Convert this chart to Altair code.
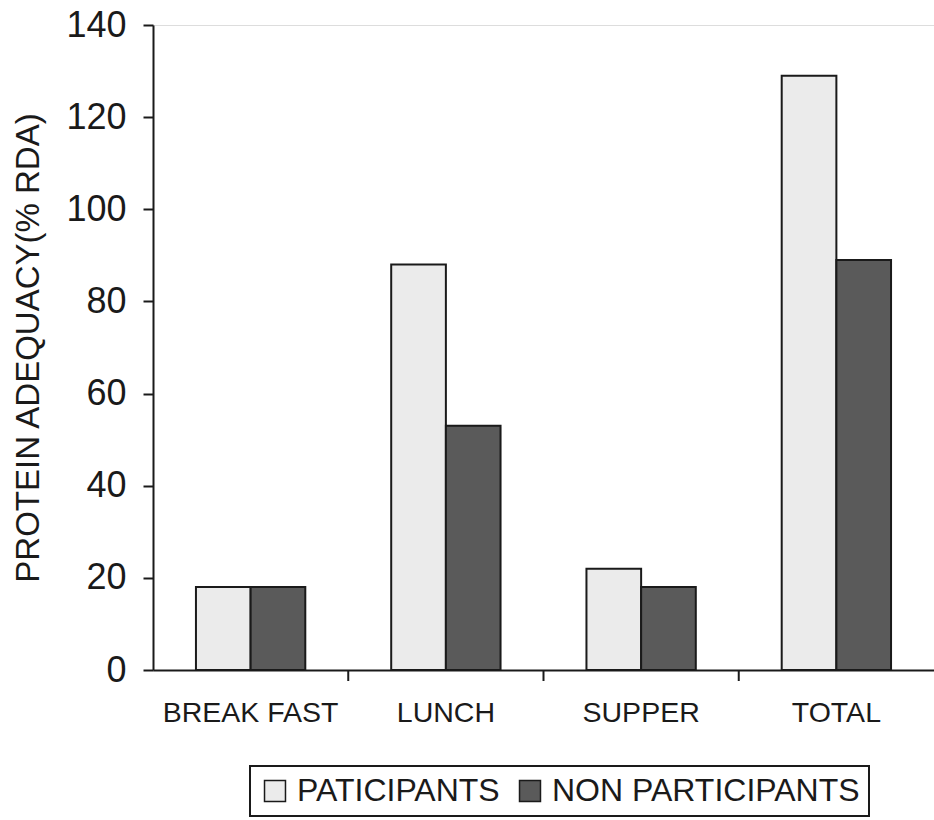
import altair as alt
import pandas as pd

meals = ["BREAK FAST", "LUNCH", "SUPPER", "TOTAL"]
participants = [18, 88, 22, 129]
non_participants = [18, 53, 18, 89]
series_names = ["PATICIPANTS", "NON PARTICIPANTS"]
y_ticks = [0, 20, 40, 60, 80, 100, 120, 140]

rows = []
for m, p, n in zip(meals, participants, non_participants):
    rows.append({"meal": m, "series": series_names[0], "value": p})
    rows.append({"meal": m, "series": series_names[1], "value": n})
df = pd.DataFrame(rows)

FONT = "Liberation Sans"
WIDTH = 781
PAD_INNER = 0.44
PAD_OUTER = 0.22
x_scale = alt.Scale(paddingInner=PAD_INNER, paddingOuter=PAD_OUTER)
step = WIDTH / (len(meals) - PAD_INNER + 2 * PAD_OUTER)

bars = alt.Chart(df).mark_bar(stroke="#1a1a1a", strokeWidth=2).encode(
    x=alt.X("meal:N", sort=meals, scale=x_scale,
            axis=alt.Axis(title=None, labelAngle=0, labelFontSize=28.5, labelFont=FONT,
                          labelColor="#1a1a1a", ticks=False,
                          domainColor="#1a1a1a", domainWidth=2, labelPadding=28)),
    xOffset=alt.XOffset("series:N", sort=series_names),
    y=alt.Y("value:Q", scale=alt.Scale(domain=[0, 140], nice=False),
            axis=alt.Axis(title="PROTEIN ADEQUACY(% RDA)", values=y_ticks, grid=False,
                          labelFontSize=36, labelFont=FONT, labelColor="#1a1a1a",
                          titleFontSize=33, titleFont=FONT, titleFontWeight="normal",
                          titleColor="#1a1a1a", titlePadding=20, tickSize=10,
                          tickColor="#1a1a1a", tickWidth=2, domainColor="#1a1a1a",
                          domainWidth=2, labelPadding=17)),
    color=alt.Color("series:N", sort=series_names,
                    scale=alt.Scale(domain=series_names, range=["#ebebeb", "#5a5a5a"]),
                    legend=alt.Legend(title=None, orient="none", legendX=97, legendY=741,
                                      direction="horizontal", symbolType="square",
                                      symbolSize=440, symbolStrokeColor="#1a1a1a",
                                      symbolStrokeWidth=1.5, labelFontSize=32,
                                      labelFont=FONT, labelColor="#1a1a1a",
                                      columnPadding=14, labelOffset=6, padding=9,
                                      strokeColor="#1a1a1a",
                                      labelLimit=400)),
)

# category-boundary tick marks on the x axis (between the bands)
ticks = alt.Chart(pd.DataFrame({"meal": meals[1:]})).mark_rule(
    color="#1a1a1a", strokeWidth=2, xOffset=-step * PAD_INNER / 2
).encode(
    x=alt.X("meal:N", sort=meals, bandPosition=0),
    y=alt.value(645),
    y2=alt.value(656),
)

chart = alt.layer(bars, ticks).properties(
    width=WIDTH, height=645,
    padding={"left": 153, "top": 25, "right": 0, "bottom": 150},
    autosize=alt.AutoSizeParams(type="none"),
).configure_view(stroke=None).configure(background="white").configure_legend(
    strokeWidth=2
)

chart.save("out.html", embed_options={"renderer": "svg", "actions": False})
